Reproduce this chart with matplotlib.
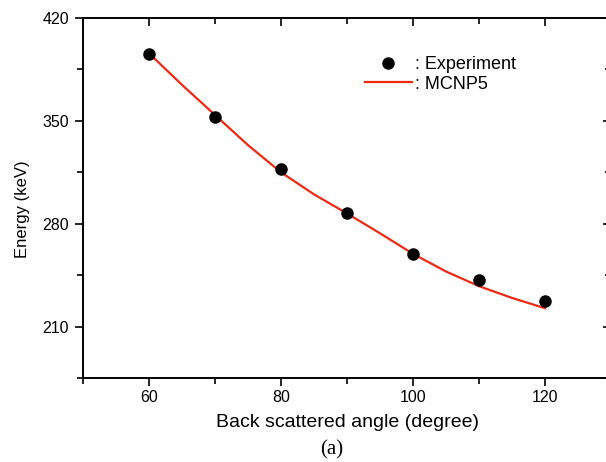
import numpy as np
import matplotlib
matplotlib.use("Agg")
import matplotlib.pyplot as plt
from matplotlib.ticker import MultipleLocator

plt.rcParams['font.family'] = ['Liberation Sans', 'DejaVu Sans']

# experiment points
angle = [60, 70, 80, 90, 100, 110, 120]
energy_exp = [395.5, 352.5, 317.5, 287.0, 259.3, 241.6, 227.5]

# MCNP5 curve
angle_sim = [60, 65, 70, 75, 80, 85, 90, 95, 100, 105, 110, 115, 120]
energy_sim = [396.0, 374.5, 354.0, 333.5, 315.0, 300.0, 287.0, 273.5,
              259.5, 247.5, 237.5, 229.5, 222.5]

fig = plt.figure(figsize=(6.06, 4.62), dpi=100)
ax = fig.add_axes([83/606, 84/462, 528/606, 360/462])

ax.plot(angle_sim, energy_sim, color='#ec2a14', lw=1.6, label=': MCNP5', zorder=2)
ax.plot(angle, energy_exp, 'o', color='black', ms=8, label=': Experiment', zorder=3)

ax.set_xlim(50, 130)
ax.set_ylim(175, 420)
ax.xaxis.set_major_locator(MultipleLocator(20))
ax.xaxis.set_minor_locator(MultipleLocator(10))
ax.set_yticks([210, 280, 350, 420])
ax.yaxis.set_minor_locator(MultipleLocator(35))

for s in ax.spines.values():
    s.set_linewidth(1.4)
ax.tick_params(which='both', width=1.2, labelsize=11.5)
ax.tick_params(which='major', length=6)
ax.tick_params(which='minor', length=4)
ax.tick_params(axis='x', which='both', top=True, pad=3)
ax.tick_params(axis='y', which='both', right=True, pad=4)
# top/right ticks point inward, bottom/left outward
for t in ax.xaxis.get_major_ticks() + ax.xaxis.get_minor_ticks():
    t.tick1line.set_marker(3)
    t.tick2line.set_marker(3)
for t in ax.yaxis.get_major_ticks() + ax.yaxis.get_minor_ticks():
    t.tick1line.set_marker(0)
    t.tick2line.set_marker(0)

ax.set_xlabel('Back scattered angle (degree)', fontsize=14, labelpad=6)
ax.set_ylabel('Energy (keV)', fontsize=12)
ax.yaxis.set_label_coords(-0.10, 0.468)

h, l = ax.get_legend_handles_labels()
ax.legend([h[1], h[0]], [l[1], l[0]], loc='upper left', bbox_to_anchor=(0.51, 0.93),
          frameon=False, fontsize=13, handlelength=2.6, handletextpad=0.2,
          labelspacing=0.15, borderpad=0.2)

fig.text(332/606, 1 - 450/462, '(a)', family='Liberation Serif', fontsize=15,
         ha='center', va='center')

fig.savefig('out.png', dpi=100)
